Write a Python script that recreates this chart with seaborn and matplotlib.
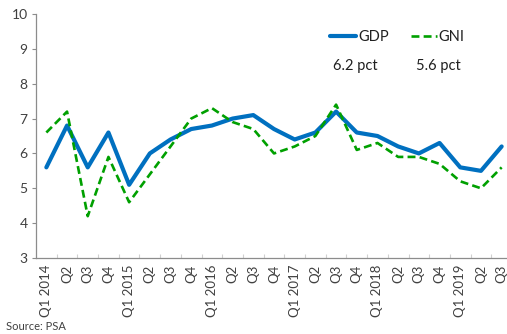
import matplotlib
matplotlib.use("Agg")
import matplotlib.pyplot as plt
import seaborn as sns
import pandas as pd
from matplotlib.ticker import FixedLocator

# Quarterly growth rates, Q1 2014 - Q3 2019 (percent, year on year)
quarters = ["Q1 2014", "Q2", "Q3", "Q4",
            "Q1 2015", "Q2", "Q3", "Q4",
            "Q1 2016", "Q2", "Q3", "Q4",
            "Q1 2017", "Q2", "Q3", "Q4",
            "Q1 2018", "Q2", "Q3", "Q4",
            "Q1 2019", "Q2", "Q3"]
gdp = [5.6, 6.8, 5.6, 6.6, 5.1, 6.0, 6.4, 6.7, 6.8, 7.0, 7.1, 6.7,
       6.4, 6.6, 7.2, 6.6, 6.5, 6.2, 6.0, 6.3, 5.6, 5.5, 6.2]
gni = [6.6, 7.2, 4.2, 5.9, 4.6, 5.4, 6.2, 7.0, 7.3, 6.9, 6.7, 6.0,
       6.2, 6.5, 7.4, 6.1, 6.3, 5.9, 5.9, 5.7, 5.2, 5.0, 5.6]
y_ticks = [3, 4, 5, 6, 7, 8, 9, 10]
source_note = "Source: PSA"

sns.set_theme(style="white")
plt.rcParams["font.family"] = ["Lato", "DejaVu Sans"]

pos = list(range(len(quarters)))
df = pd.DataFrame({"pos": pos * 2,
                   "value": gdp + gni,
                   "series": ["GDP"] * len(gdp) + ["GNI"] * len(gni)})

fig = plt.figure(figsize=(5.07, 3.34), dpi=100)
ax = fig.add_axes([36 / 507, 76 / 334, 476 / 507, 244 / 334])

blue = "#0070C0"
green = "#00A000"
sns.lineplot(data=df[df.series == "GDP"], x="pos", y="value", ax=ax,
             color=blue, linewidth=3.0, label="GDP")
sns.lineplot(data=df[df.series == "GNI"], x="pos", y="value", ax=ax,
             color=green, linewidth=1.9, label="GNI")
ax.lines[1].set_dashes([3, 1.6])

ax.set_xlim(-0.5, len(quarters) - 0.5)
ax.set_ylim(3, 10)
ax.set_yticks(y_ticks)
ax.set_xticks(pos)
ax.set_xticklabels(quarters, rotation=90)
ax.xaxis.set_minor_locator(FixedLocator([p + 0.5 for p in pos]))
ax.set_xlabel("")
ax.set_ylabel("")

grey = "#8c8c8c"
for side in ("top", "right"):
    ax.spines[side].set_visible(False)
for side in ("left", "bottom"):
    ax.spines[side].set_color(grey)
    ax.spines[side].set_linewidth(0.9)

ax.tick_params(axis="x", which="major", length=0, pad=5,
               labelsize=9.5, labelcolor="#404040")
ax.tick_params(axis="x", which="minor", direction="in", length=3,
               color="#d0d0d0", width=0.8, bottom=True)
ax.tick_params(axis="y", which="major", direction="out", length=3,
               color=grey, width=0.8, left=True, pad=3,
               labelsize=10, labelcolor="#404040")

leg = ax.legend(loc="center left", bbox_to_anchor=(0.618, 0.906), ncol=2,
                frameon=False, fontsize=10.5, handlelength=1.8,
                handletextpad=0.12, columnspacing=1.5,
                borderpad=0, borderaxespad=0)
for t in leg.get_texts():
    t.set_color("#202020")

ax.text(0.624, 0.787, f"{gdp[-1]} pct", transform=ax.transAxes,
        fontsize=10.5, color="#202020", va="center", ha="left")
ax.text(0.798, 0.787, f"{gni[-1]} pct", transform=ax.transAxes,
        fontsize=10.5, color="#202020", va="center", ha="left")

fig.text(6 / 507, 1 - 327 / 334, source_note, fontsize=8,
         color="#404040", va="center", ha="left")

fig.savefig("out.png", dpi=100)
